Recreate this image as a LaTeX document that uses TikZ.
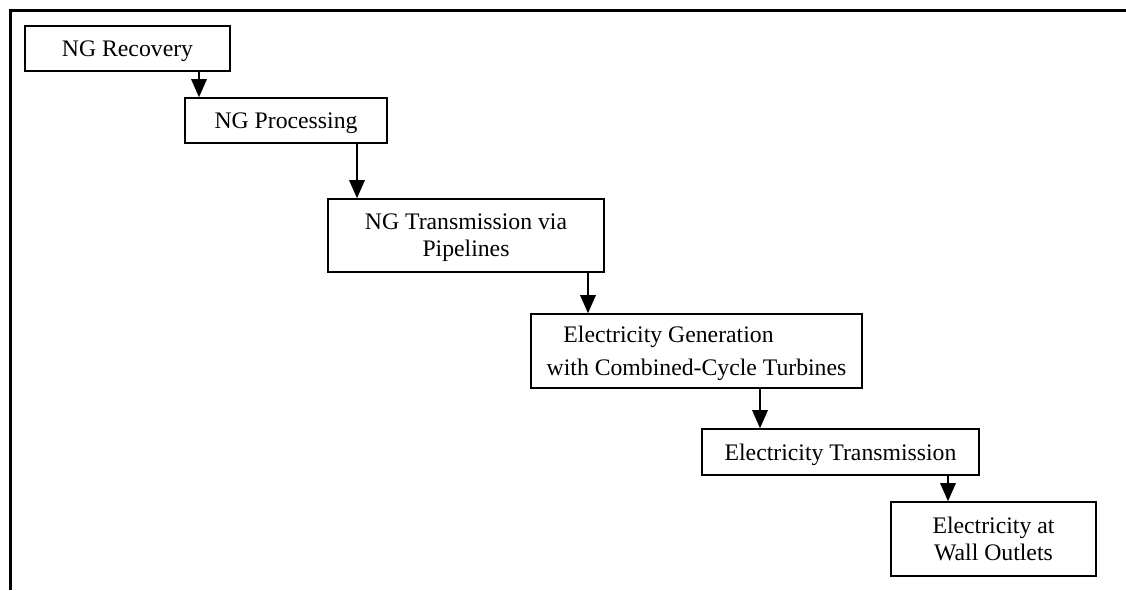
\documentclass[tikz,border=0pt]{standalone}
\usepackage{fontspec}
\setmainfont{Liberation Serif}
\usetikzlibrary{arrows.meta}

\begin{document}
\begin{tikzpicture}[
    stufe/.style={draw, line width=0.9pt, align=center, inner sep=0pt,
        text depth=-0.07cm, font=\fontsize{13.5}{15.4}\selectfont},
    pfeil/.style={line width=0.8pt, -{Triangle[length=0.36cm, width=0.31cm]}}
]
    % Rahmen
    \useasboundingbox (0,0) rectangle (22.52,-11.8);
    \draw[line width=1.3pt] (0.21,-11.8) -- (0.21,-0.21) -- (22.52,-0.21);

    % Stufen
    \node[stufe, minimum width=4.10cm, minimum height=0.90cm] (rec) at (2.55,-0.97) {NG Recovery};
    \node[stufe, minimum width=4.04cm, minimum height=0.90cm] (proc) at (5.72,-2.41) {NG Processing};
    \node[stufe, minimum width=5.52cm, minimum height=1.46cm] (ngtr) at (9.32,-4.71) {NG Transmission via\\Pipelines};
    \node[stufe, minimum width=6.62cm, minimum height=1.48cm] (gen) at (13.93,-7.02)
        {Electricity Generation\hspace*{1.12cm}\\[3.5pt]with Combined-Cycle Turbines};
    \node[stufe, minimum width=5.54cm, minimum height=0.92cm] (eltr) at (16.81,-9.04) {Electricity Transmission};
    \node[stufe, minimum width=4.10cm, minimum height=1.48cm] (wall) at (19.87,-10.78) {Electricity at\\Wall Outlets};

    % Pfeile
    \foreach \von/\nach/\x in {rec/proc/3.98, proc/ngtr/7.14, ngtr/gen/11.76, gen/eltr/15.20, eltr/wall/18.96} {
        \coordinate (px) at (\x,0);
        \draw[pfeil] (px |- \von.south) -- (px |- \nach.north);
    }
\end{tikzpicture}
\end{document}
